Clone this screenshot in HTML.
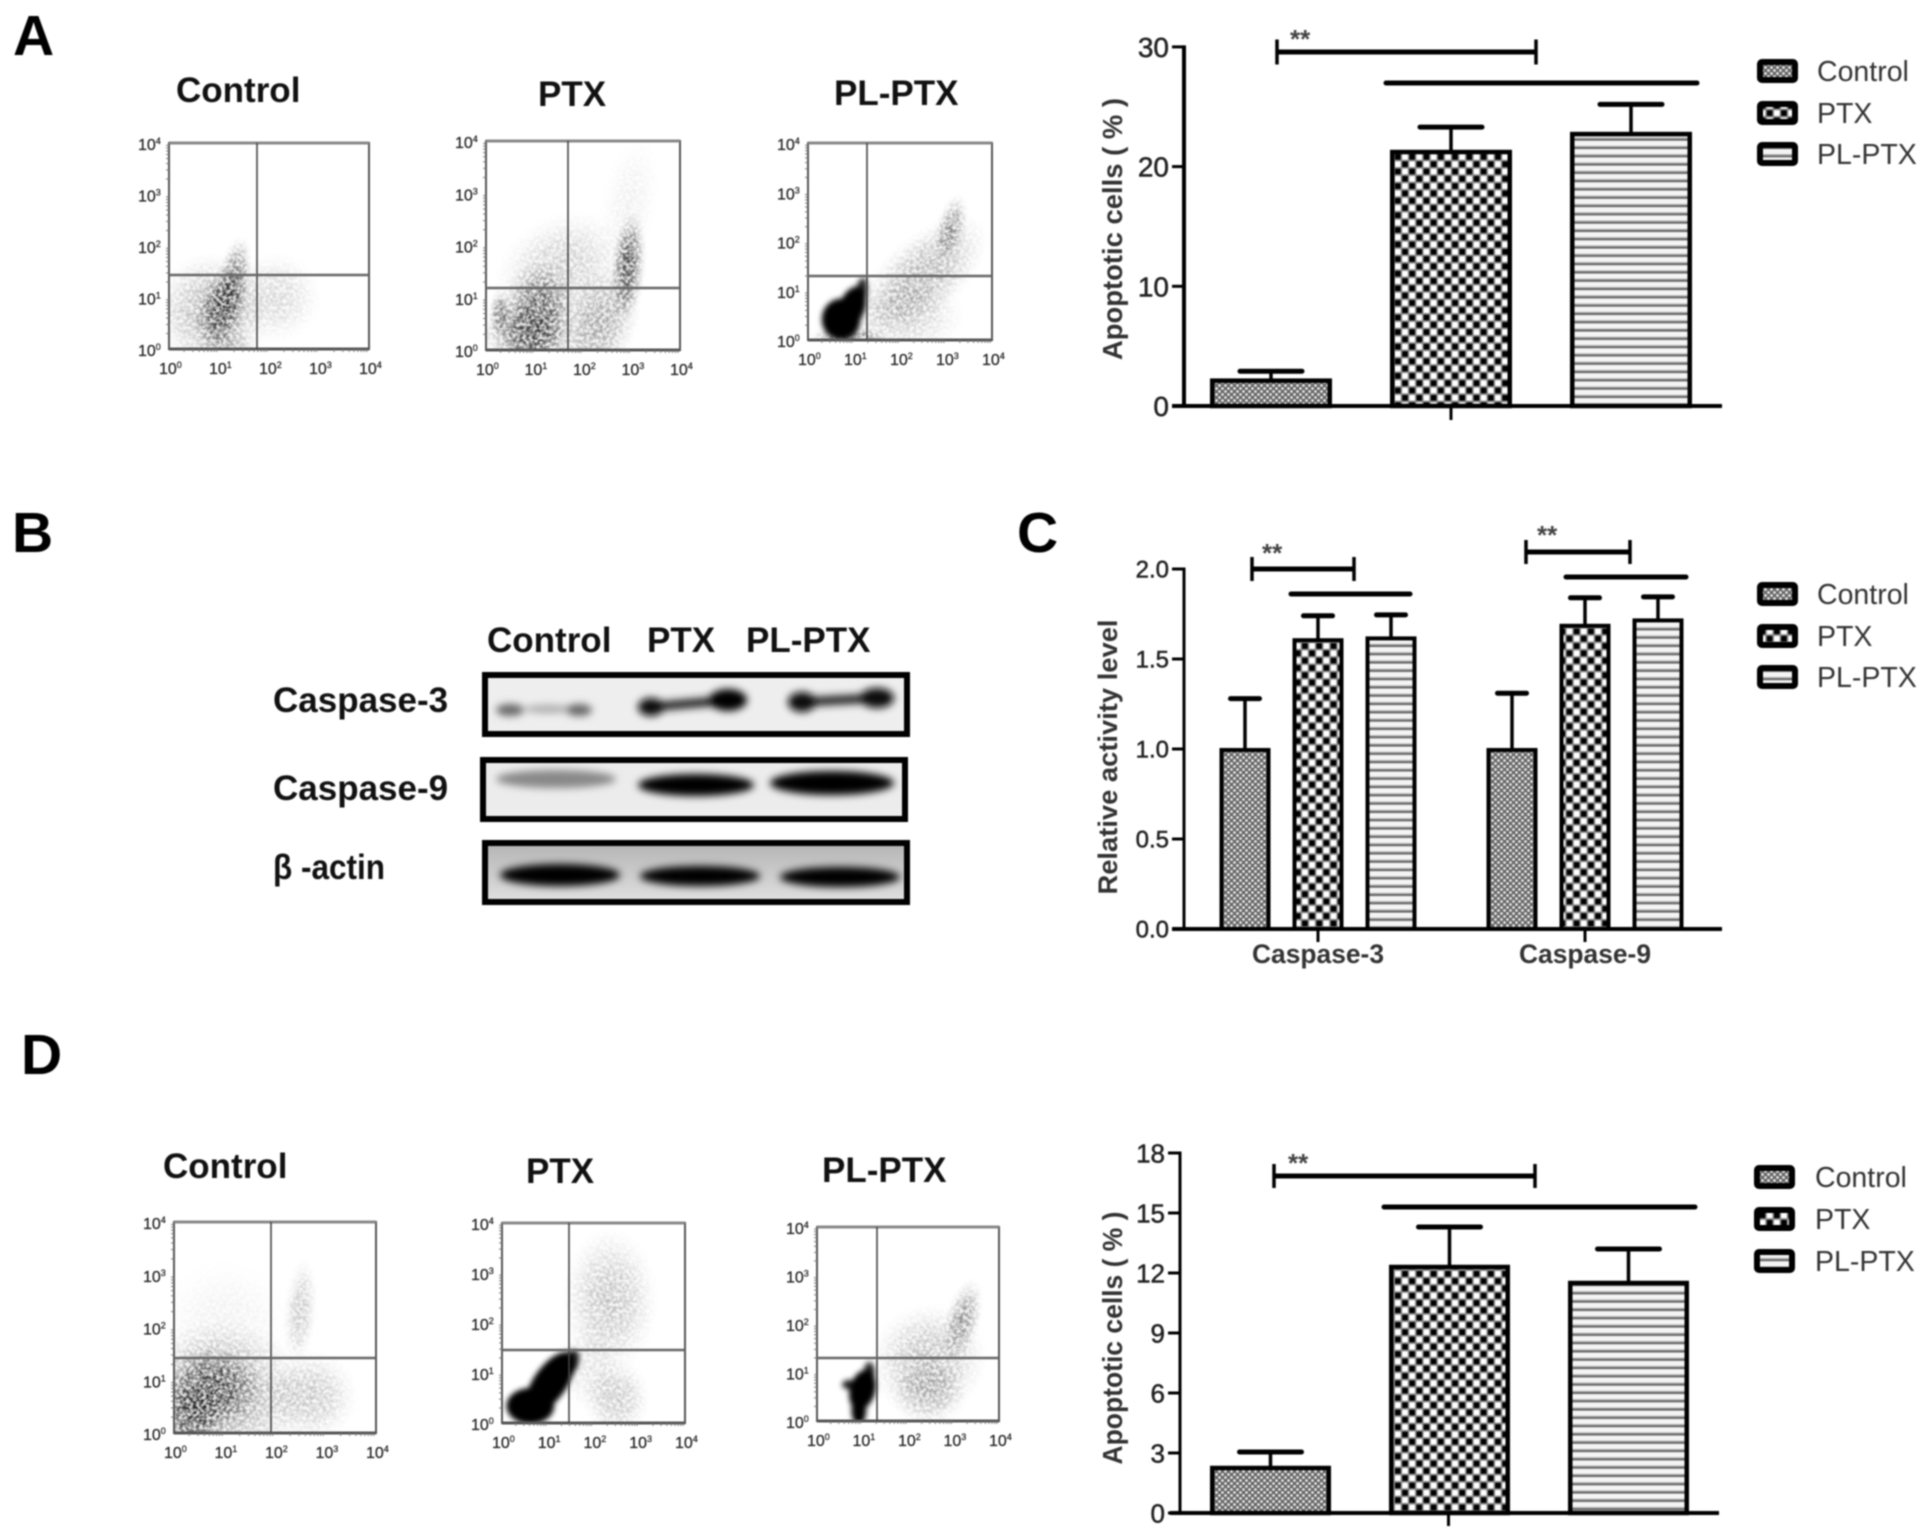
<!DOCTYPE html>
<html lang="en">
<head>
<meta charset="utf-8">
<title>Apoptosis and caspase activity figure</title>
<style>
html,body{margin:0;padding:0;background:#fff;width:1929px;height:1537px;overflow:hidden}
svg{position:absolute;left:0;top:0;filter:blur(0.8px);font-family:"Liberation Sans",sans-serif}
</style>
</head>
<body>
<svg id="figure" xmlns="http://www.w3.org/2000/svg" width="1929" height="1537" viewBox="0 0 1929 1537">
<defs>
  <pattern id="patControl" patternUnits="userSpaceOnUse" width="6" height="6">
    <rect width="6" height="6" fill="#666"/>
    <circle cx="1.5" cy="1.5" r="1.35" fill="#eee"/>
    <circle cx="4.5" cy="4.5" r="1.35" fill="#eee"/>
  </pattern>
  <pattern id="patPTX" patternUnits="userSpaceOnUse" width="14.3" height="14.6">
    <rect width="14.3" height="14.6" fill="#8a8a8a"/>
    <rect x="0.8" y="0.8" width="5.6" height="5.6" fill="#000"/>
    <rect x="7.95" y="8.1" width="5.6" height="5.6" fill="#000"/>
    <rect x="7.95" y="0.8" width="5.6" height="5.6" fill="#fff"/>
    <rect x="0.8" y="8.1" width="5.6" height="5.6" fill="#fff"/>
  </pattern>
  <pattern id="patPL" patternUnits="userSpaceOnUse" width="8.3" height="8.3">
    <rect width="8.3" height="8.3" fill="#f4f4f4"/>
    <rect y="4.6" width="8.3" height="1.2" fill="#bbb"/>
    <rect y="5.8" width="8.3" height="2" fill="#666"/>
    <rect y="7.8" width="8.3" height="0.5" fill="#ccc"/>
  </pattern>
  <radialGradient id="cloudGrad">
    <stop offset="0" stop-color="#000" stop-opacity="1"/>
    <stop offset="0.45" stop-color="#000" stop-opacity="0.7"/>
    <stop offset="0.8" stop-color="#000" stop-opacity="0.18"/>
    <stop offset="1" stop-color="#000" stop-opacity="0"/>
  </radialGradient>
  <filter id="cloudBlur" x="-60%" y="-60%" width="220%" height="220%"><feGaussianBlur stdDeviation="2.6"/></filter>
  <filter id="speckle" x="-20%" y="-20%" width="140%" height="140%" color-interpolation-filters="sRGB">
    <feGaussianBlur in="SourceGraphic" stdDeviation="1.5" result="soft"/>
    <feTurbulence type="fractalNoise" baseFrequency="0.3" numOctaves="2" seed="7" result="turb"/>
    <feColorMatrix in="turb" type="matrix" values="0 0 0 0 0  0 0 0 0 0  0 0 0 0 0  2.5 0 0 0 -0.75" result="noise"/>
    <feComposite in="soft" in2="noise" operator="arithmetic" k1="0.95" k2="0.14" k3="0" k4="0"/>
  </filter>
  <filter id="bandBlur" x="-30%" y="-80%" width="160%" height="260%"><feGaussianBlur stdDeviation="4"/></filter>
  <linearGradient id="actinBg" x1="0" y1="0" x2="0" y2="1">
    <stop offset="0" stop-color="#b4b4b4"/><stop offset="0.5" stop-color="#cacaca"/><stop offset="1" stop-color="#e0e0e0"/>
  </linearGradient>
  <clipPath id="clipBlot1"><rect x="485" y="675" width="422" height="59"/></clipPath>
  <clipPath id="clipBlot2"><rect x="483" y="760" width="422" height="59"/></clipPath>
  <clipPath id="clipBlot3"><rect x="485" y="843" width="422" height="59"/></clipPath>
</defs>

<g font-weight="700" font-size="57" fill="#000">
  <text x="13" y="55">A</text>
  <text x="12" y="552">B</text>
  <text x="1017" y="552">C</text>
  <text x="21" y="1074">D</text>
</g>

<g font-weight="700" font-size="35" fill="#111">
  <text x="176" y="102">Control</text>
  <text x="538" y="106">PTX</text>
  <text x="834" y="105">PL-PTX</text>
  <text x="163" y="1178">Control</text>
  <text x="526" y="1183">PTX</text>
  <text x="822" y="1182">PL-PTX</text>
</g>

<g>
  <g font-weight="700" font-size="35" fill="#111">
    <text x="487" y="652">Control</text>
    <text x="647" y="652">PTX</text>
    <text x="746" y="652">PL-PTX</text>
    <text x="273" y="712">Caspase-3</text>
    <text x="273" y="800">Caspase-9</text>
    <text x="273" y="879" textLength="112" lengthAdjust="spacingAndGlyphs" font-family="&quot;Liberation Sans&quot;,&quot;DejaVu Sans&quot;,sans-serif">β -actin</text>
  </g>

  <g>
    <rect x="485" y="675" width="422" height="59" fill="#eeeeee"/>
    <g clip-path="url(#clipBlot1)">
      <g filter="url(#bandBlur)">
        <ellipse cx="510" cy="710" rx="14" ry="6" fill="#666"/>
        <ellipse cx="548" cy="709" rx="24" ry="4" fill="#aaa"/>
        <ellipse cx="579" cy="710" rx="13" ry="6" fill="#666"/>
        <path d="M651 707 L730 700" stroke="#222" stroke-width="9" fill="none" stroke-linecap="round"/>
        <ellipse cx="651" cy="707" rx="13" ry="9" fill="#111"/>
        <ellipse cx="728" cy="700" rx="19" ry="11" fill="#000"/>
        <path d="M802 702 L878 698" stroke="#222" stroke-width="9" fill="none" stroke-linecap="round"/>
        <ellipse cx="802" cy="702" rx="14" ry="10" fill="#111"/>
        <ellipse cx="877" cy="698" rx="17" ry="10" fill="#111"/>
      </g>
    </g>
    <rect x="485" y="675" width="422" height="59" fill="none" stroke="#000" stroke-width="6"/>
  </g>

  <g>
    <rect x="483" y="760" width="422" height="59" fill="#ececec"/>
    <g clip-path="url(#clipBlot2)">
      <ellipse cx="556" cy="779" rx="60" ry="9" fill="#888" filter="url(#bandBlur)"/>
      <ellipse cx="696" cy="785" rx="58" ry="11" fill="#000" filter="url(#bandBlur)"/>
      <ellipse cx="832" cy="783" rx="62" ry="12" fill="#000" filter="url(#bandBlur)"/>
    </g>
    <rect x="483" y="760" width="422" height="59" fill="none" stroke="#000" stroke-width="6"/>
  </g>

  <g>
    <rect x="485" y="843" width="422" height="59" fill="url(#actinBg)"/>
    <g clip-path="url(#clipBlot3)">
      <ellipse cx="560" cy="875" rx="60" ry="11" fill="#000" filter="url(#bandBlur)"/>
      <ellipse cx="700" cy="876" rx="60" ry="10" fill="#000" filter="url(#bandBlur)"/>
      <ellipse cx="840" cy="877" rx="60" ry="10" fill="#000" filter="url(#bandBlur)"/>
    </g>
    <rect x="485" y="843" width="422" height="59" fill="none" stroke="#000" stroke-width="6"/>
  </g>
</g>
</svg>

<script>
/* ---------- Bar chart data ---------- */
const seriesNames = ['Control', 'PTX', 'PL-PTX'];

const panelATicks = [0, 10, 20, 30];
const panelAMeans = [2.2, 21.3, 22.8];
const panelAErrors = [0.7, 2.0, 2.4];

const panelCTicks = ['0.0', '0.5', '1.0', '1.5', '2.0'];
const panelCGroups = ['Caspase-3', 'Caspase-9'];
const panelCCaspase3Means = [1.0, 1.61, 1.62];
const panelCCaspase3Errors = [0.28, 0.13, 0.125];
const panelCCaspase9Means = [1.0, 1.69, 1.72];
const panelCCaspase9Errors = [0.31, 0.15, 0.125];

const panelDTicks = [0, 3, 6, 9, 12, 15, 18];
const panelDMeans = [2.3, 12.35, 11.55];
const panelDErrors = [0.75, 1.95, 1.65];

/* ---------- Flow cytometry density clouds: [log x, log y, spread x, spread y, tilt deg, density] ---------- */
const flowDecades = [0, 1, 2, 3, 4];

const flowA1Clouds = [
  [0.85, 0.7, 0.8, 0.8, 0, 0.3],
  [2.1, 1.0, 0.65, 0.6, 0, 0.16],
  [1.05, 0.78, 0.34, 0.58, 15, 0.72],
  [1.3, 1.35, 0.22, 0.58, 10, 0.55],
  [1.2, 0.1, 0.4, 0.25, 0, 0.2]
];
const flowA2Clouds = [
  [1.03, 0.56, 0.55, 0.8, 10, 0.7],
  [0.3, 0.7, 0.16, 0.32, 0, 0.55],
  [0.8, 0.3, 0.7, 0.4, 0, 0.35],
  [2.93, 1.6, 0.24, 0.72, 5, 0.72],
  [2.3, 0.5, 0.55, 0.8, 25, 0.36],
  [1.55, 1.55, 1.0, 0.7, -30, 0.2],
  [2.95, 2.8, 0.4, 0.9, 10, 0.06]
];
const flowA3Clouds = [
  [0.72, 0.42, 0.42, 0.42, 0, 1],
  [0.95, 0.65, 0.28, 0.45, 20, 1],
  [1.15, 0.95, 0.13, 0.32, 10, 0.85],
  [2.5, 1.3, 1.2, 0.55, -42, 0.3],
  [3.1, 2.25, 0.22, 0.5, 15, 0.42],
  [2.1, 0.5, 0.9, 0.55, 0, 0.18],
  [0.9, 0.08, 0.6, 0.12, 0, 0.5]
];
const flowD1Clouds = [
  [0.9, 0.7, 1.2, 1.0, 0, 0.36],
  [0.75, 0.85, 0.7, 0.55, 0, 0.65],
  [0.36, 0.32, 0.45, 0.5, 0, 0.65],
  [2.7, 0.7, 0.65, 0.6, 0, 0.22],
  [2.5, 2.3, 0.22, 0.7, 5, 0.22],
  [1.0, 2.0, 0.9, 0.9, 0, 0.06]
];
const flowD2Clouds = [
  [1.05, 0.8, 0.36, 0.72, 35, 1],
  [0.62, 0.34, 0.52, 0.36, 0, 1],
  [1.5, 1.2, 0.17, 0.28, 20, 0.85],
  [2.36, 2.45, 0.72, 1.0, 0, 0.24],
  [2.5, 0.5, 0.5, 0.55, 0, 0.22],
  [1.9, 1.1, 0.5, 0.6, 0, 0.1]
];
const flowD3Clouds = [
  [1.0, 0.64, 0.28, 0.42, 15, 1],
  [0.92, 0.22, 0.16, 0.3, 0, 1],
  [1.15, 1.0, 0.12, 0.22, 0, 0.85],
  [0.7, 0.75, 0.15, 0.1, 0, 0.85],
  [3.2, 2.08, 0.26, 0.6, 15, 0.42],
  [2.45, 1.25, 0.9, 0.8, -30, 0.26],
  [2.45, 0.6, 0.6, 0.5, 0, 0.24]
];

/* ---------- helpers ---------- */
const SVG_NS = 'http://www.w3.org/2000/svg';
const root = document.getElementById('figure');
function mk(tag, attrs, parent) {
  const e = document.createElementNS(SVG_NS, tag);
  for (const k in attrs) e.setAttribute(k, attrs[k]);
  (parent || root).appendChild(e);
  return e;
}
const fills = ['url(#patControl)', 'url(#patPTX)', 'url(#patPL)'];

function drawBar(parent, cx, w, mean, err, y, base, capW, seriesIdx, slug, sw) {
  const bar = mk('rect', {x: cx - w / 2 + sw / 2, y: y(mean) + 1, width: w - sw, height: base - y(mean) - 1, fill: fills[seriesIdx], stroke: '#000', 'stroke-width': sw}, parent);
  
  
  const stem = mk('line', {x1: cx, x2: cx, y1: y(mean), y2: y(mean + err), stroke: '#000', 'stroke-width': 3.5}, parent);
  
  
  const cap = mk('line', {x1: cx - capW / 2, x2: cx + capW / 2, y1: y(mean + err), y2: y(mean + err), stroke: '#000', 'stroke-width': 5, 'stroke-linecap': 'round'}, parent);
  
  
}

function drawAxes(parent, opt, y) {
  const ya = mk('line', {x1: opt.axisX, x2: opt.axisX, y1: y(opt.max) - 1.5, y2: opt.base, stroke: '#000', 'stroke-width': opt.axisW}, parent);
  
  
  const xa = mk('line', {x1: opt.xStart, x2: opt.xEnd, y1: opt.base, y2: opt.base, stroke: '#000', 'stroke-width': 4}, parent);
  
  
  opt.ticks.forEach(function (t) {
    const v = parseFloat(t);
    const tick = mk('line', {x1: opt.axisX - 12, x2: opt.axisX, y1: y(v), y2: y(v), stroke: '#000', 'stroke-width': 3}, parent);
    
    
    const lab = mk('text', {x: opt.axisX - 15, y: y(v) + opt.tickFont * 0.36, 'text-anchor': 'end', 'font-size': opt.tickFont, fill: '#222', stroke: '#222', 'stroke-width': 0.5}, parent);
    lab.textContent = String(t);
    
    
  });
  const cy = opt.titleMid;
  const title = mk('text', {transform: 'translate(' + opt.titleX + ' ' + cy + ') rotate(-90)', 'text-anchor': 'middle', 'font-size': opt.titleFont, 'font-weight': 700, fill: '#333', textLength: opt.titleLen, lengthAdjust: 'spacingAndGlyphs'}, parent);
  title.textContent = opt.title;
  
  
}

function bracket(parent, x1, x2, y, capHalf, starX, starY) {
  const l = mk('line', {x1: x1, x2: x2, y1: y, y2: y, stroke: '#000', 'stroke-width': 5}, parent);
  
  
  [x1, x2].forEach(function (x) {
    const c = mk('line', {x1: x, x2: x, y1: y - capHalf, y2: y + capHalf, stroke: '#000', 'stroke-width': 3.5}, parent);
    
    
  });
  const s = mk('text', {x: starX, y: starY, 'font-size': 26, 'font-weight': 700, fill: '#444'}, parent);
  s.textContent = '**';
  
  
}
function sigLine(parent, x1, x2, y) {
  const l = mk('line', {x1: x1, x2: x2, y1: y, y2: y, stroke: '#000', 'stroke-width': 5, 'stroke-linecap': 'round'}, parent);
  
  
}

function drawLegend(parent, swatchX, w, h, textX, rows) {
  seriesNames.forEach(function (name, i) {
    const g = mk('g', {}, parent);
    
    
    const sw = mk('rect', {x: swatchX + 3, y: rows[i] - h / 2 + 3, width: w - 6, height: h - 6, rx: 2, fill: fills[i], stroke: '#000', 'stroke-width': 6}, g);
    
    
    const t = mk('text', {x: textX, y: rows[i] + 10, 'font-size': 28.5, fill: '#333'}, g);
    t.textContent = name;
    
    
  });
}

/* ---------- Panel A bar chart ---------- */
(function () {
  const g = mk('g', {});
  
  
  const base = 406, scale = 11.97;
  const y = function (v) { return base - v * scale; };
  const center = function (i) { return 1271 + i * 180; };
  panelAMeans.forEach(function (m, i) {
    drawBar(g, center(i), 122, m, panelAErrors[i], y, base, 62, i, 'a-' + seriesNames[i].toLowerCase(), 4.5);
  });
  drawAxes(g, {axisX: 1184, axisW: 4, base: base, max: 30, xStart: 1172, xEnd: 1722, ticks: panelATicks, tickFont: 28, title: 'Apoptotic cells ( % )', titleX: 1122, titleMid: 229, titleFont: 28, titleLen: 262}, y);
  const mid = mk('line', {x1: center(1), x2: center(1), y1: base, y2: base + 14, stroke: '#000', 'stroke-width': 3}, g);
  
  
  bracket(g, 1277, 1536, 52, 12.5, 1290, 48);
  sigLine(g, 1386, 1697, 83);
  drawLegend(g, 1757, 41, 24, 1817, [71, 113, 154]);
})();

/* ---------- Panel C bar chart ---------- */
(function () {
  const g = mk('g', {});
  
  
  const base = 929, scale = 180;
  const y = function (v) { return base - v * scale; };
  const center = function (grp, i) { return 1245 + grp * 267 + i * 73; };
  const means = [panelCCaspase3Means, panelCCaspase9Means];
  const errs = [panelCCaspase3Errors, panelCCaspase9Errors];
  panelCGroups.forEach(function (name, grp) {
    means[grp].forEach(function (m, i) {
      drawBar(g, center(grp, i), 51, m, errs[grp][i], y, base, 29, i, 'c-' + name.toLowerCase() + '-' + seriesNames[i].toLowerCase(), 4);
    });
    const tick = mk('line', {x1: center(grp, 1), x2: center(grp, 1), y1: base, y2: base + 13, stroke: '#000', 'stroke-width': 3}, g);
    
    
    const lab = mk('text', {x: center(grp, 1), y: 963, 'text-anchor': 'middle', 'font-size': 26.4, 'font-weight': 700, fill: '#333'}, g);
    lab.textContent = name;
    
    
  });
  drawAxes(g, {axisX: 1184, axisW: 3, base: base, max: 2, xStart: 1172, xEnd: 1722, ticks: panelCTicks, tickFont: 24, title: 'Relative activity level', titleX: 1117, titleMid: 757, titleFont: 27, titleLen: 275}, y);
  bracket(g, 1252, 1354, 569, 12, 1262, 562);
  sigLine(g, 1291, 1410, 594);
  bracket(g, 1526, 1630, 552, 12, 1537, 544);
  sigLine(g, 1566, 1686, 577);
  drawLegend(g, 1757, 41, 24, 1817, [594, 636, 677]);
})();

/* ---------- Panel D bar chart ---------- */
(function () {
  const g = mk('g', {});
  
  
  const base = 1513, scale = 20;
  const y = function (v) { return base - v * scale; };
  const center = function (i) { return 1270.5 + i * 179; };
  panelDMeans.forEach(function (m, i) {
    drawBar(g, center(i), 121, m, panelDErrors[i], y, base, 62, i, 'd-' + seriesNames[i].toLowerCase(), 4.5);
  });
  drawAxes(g, {axisX: 1180, axisW: 3, base: base, max: 18, xStart: 1170, xEnd: 1719, ticks: panelDTicks, tickFont: 26, title: 'Apoptotic cells ( % )', titleX: 1122, titleMid: 1338, titleFont: 28, titleLen: 253}, y);
  const mid = mk('line', {x1: center(1) - 1, x2: center(1) - 1, y1: base, y2: base + 13, stroke: '#000', 'stroke-width': 3}, g);
  
  
  bracket(g, 1274, 1535, 1176, 12, 1288, 1172);
  sigLine(g, 1384, 1695, 1207);
  drawLegend(g, 1754, 41, 24, 1815, [1177, 1219, 1261]);
})();

/* ---------- Flow cytometry plots ---------- */
let flowClipId = 0;
function drawFlow(name, box, clouds) {
  const g = mk('g', {});
  
  
  const px = function (d) { return box.x0 + d * (box.x1 - box.x0) / 4; };
  const py = function (d) { return box.y0 - d * (box.y0 - box.y1) / 4; };
  const id = 'flowClip' + (flowClipId++);
  const cp = mk('clipPath', {id: id}, g);
  mk('rect', {x: box.x0, y: box.y1, width: box.x1 - box.x0, height: box.y0 - box.y1}, cp);
  const cg = mk('g', {'clip-path': 'url(#' + id + ')'}, g);
  const paleG = mk('g', {filter: 'url(#speckle)'}, cg);
  const solidG = mk('g', {filter: 'url(#cloudBlur)'}, cg);
  clouds.forEach(function (c) {
    const cx = px(c[0]), cy = py(c[1]);
    const solid = c[5] >= 0.8;
    const grow = solid ? 1 : 1.45;
    const rx = grow * c[2] * (box.x1 - box.x0) / 4, ry = grow * c[3] * (box.y0 - box.y1) / 4;
    const el = mk('ellipse', {cx: cx, cy: cy, rx: rx, ry: ry, transform: 'rotate(' + c[4] + ' ' + cx + ' ' + cy + ')', fill: solid ? '#000' : 'url(#cloudGrad)', 'fill-opacity': c[5]}, solid ? solidG : paleG);
    
    
  });
  const frame = mk('rect', {x: box.x0, y: box.y1, width: box.x1 - box.x0, height: box.y0 - box.y1, fill: 'none', stroke: '#555', 'stroke-width': 2}, g);
  
  
  const topEdge = mk('line', {x1: box.x0, x2: box.x1, y1: box.y1, y2: box.y1, stroke: '#888', 'stroke-width': 3}, g);
  
  
  const bottomEdge = mk('line', {x1: box.x0, x2: box.x1, y1: box.y0, y2: box.y0, stroke: '#555', 'stroke-width': 3}, g);
  
  
  const vg = mk('line', {x1: box.vx, x2: box.vx, y1: box.y1, y2: box.y0, stroke: '#444', 'stroke-width': 1.6}, g);
  
  
  const hg = mk('line', {x1: box.x0, x2: box.x1, y1: box.hy, y2: box.hy, stroke: '#666', 'stroke-width': 2.6}, g);
  
  
  flowDecades.forEach(function (d) {
    const xl = mk('text', {x: px(d) - 10, y: box.y0 + 25, 'font-size': 16, fill: '#222', stroke: '#222', 'stroke-width': 0.25}, g);
    
    
    const xBase = mk('tspan', {}, xl);
    xBase.textContent = '10';
    const xSup = mk('tspan', {dy: -6, 'font-size': 9}, xl);
    xSup.textContent = String(d);
    const yl = mk('text', {x: box.x0 - 31, y: py(d) + 7, 'font-size': 16, fill: '#222', stroke: '#222', 'stroke-width': 0.25}, g);
    
    
    const yBase = mk('tspan', {}, yl);
    yBase.textContent = '10';
    const ySup = mk('tspan', {dy: -6, 'font-size': 9}, yl);
    ySup.textContent = String(d);
    if (d < 4) {
      for (let m = 2; m <= 9; m++) {
        const frac = Math.log10(m);
        const tx = mk('line', {x1: px(d + frac), x2: px(d + frac), y1: box.y0, y2: box.y0 + 3, stroke: '#777', 'stroke-width': 1}, g);
        
        
        const ty = mk('line', {x1: box.x0 - 3, x2: box.x0, y1: py(d + frac), y2: py(d + frac), stroke: '#777', 'stroke-width': 1}, g);
        
        
      }
    }
  });
}
drawFlow('a-control', {x0: 169, x1: 369, y0: 349, y1: 143, vx: 257, hy: 275}, flowA1Clouds);
drawFlow('a-ptx', {x0: 486, x1: 680, y0: 350, y1: 141, vx: 568, hy: 288}, flowA2Clouds);
drawFlow('a-pl-ptx', {x0: 808, x1: 992, y0: 340, y1: 143, vx: 867, hy: 276}, flowA3Clouds);
drawFlow('d-control', {x0: 174, x1: 376, y0: 1433, y1: 1222, vx: 271, hy: 1358}, flowD1Clouds);
drawFlow('d-ptx', {x0: 502, x1: 685, y0: 1423, y1: 1223, vx: 569, hy: 1350}, flowD2Clouds);
drawFlow('d-pl-ptx', {x0: 817, x1: 999, y0: 1421, y1: 1227, vx: 877, hy: 1358}, flowD3Clouds);
</script>
</body>
</html>
